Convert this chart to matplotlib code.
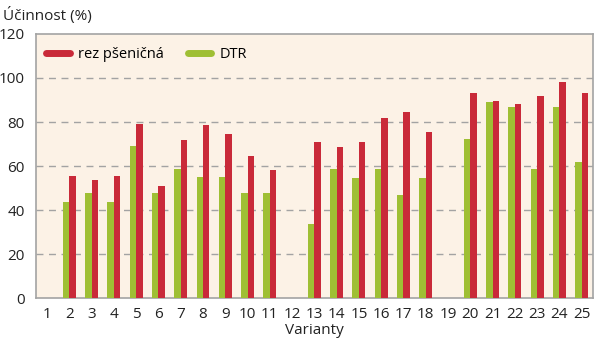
import matplotlib
matplotlib.use("Agg")
import matplotlib.pyplot as plt
from matplotlib.lines import Line2D
import numpy as np

varianty = list(range(1, 26))
# None = no bar for that variant
rez_psenicna = [None, 55.5, 53.5, 55.5, 79, 51, 72, 78.5, 74.5, 64.5, 58, None,
                71, 68.5, 71, 82, 84.5, 75.5, None, 93, 89.5, 88, 92, 98, 93]
dtr = [None, 43.5, 48, 43.5, 69, 48, 58.5, 55, 55, 48, 48, None,
       33.5, 58.5, 54.5, 58.5, 47, 54.5, None, 72.5, 89, 87, 58.5, 87, 62]

red = '#c92a39'
green = '#9fbf34'
grey = '#a3a3a3'

x = np.array(varianty, dtype=float)
r = np.array([np.nan if v is None else v for v in rez_psenicna])
g = np.array([np.nan if v is None else v for v in dtr])

plt.rcParams['font.family'] = ['Open Sans', 'DejaVu Sans']

fig = plt.figure(figsize=(6.0, 3.46), dpi=100)
ax = fig.add_axes([0.06, 0.138, 0.928, 0.764])
ax.set_facecolor('#fcf2e6')

w = 0.29
ax.bar(x + w / 2, r, width=w, color=red, zorder=3)
ax.bar(x - w / 2, g, width=w, color=green, zorder=3)

ax.set_xlim(0.5, 25.5)
ax.set_ylim(0, 120)
ax.set_yticks(range(0, 121, 20))
ax.set_xticks(varianty)
for yv in range(20, 101, 20):
    ax.axhline(yv, color=grey, lw=1, ls=(0, (5, 4)), zorder=1)

for s in ax.spines.values():
    s.set_color(grey)
    s.set_linewidth(1.2)
ax.tick_params(length=0, labelsize=11, colors='#222222', pad=6)
ax.tick_params(axis='y', pad=8)

ax.set_xlabel('Varianty', fontsize=11, color='#222222', labelpad=1)
fig.text(0.005, 0.955, 'Účinnost (%)', fontsize=11, color='#222222', va='center')

handles = [Line2D([0], [0], color=red, lw=5, solid_capstyle='round'),
           Line2D([0], [0], color=green, lw=5, solid_capstyle='round')]
ax.legend(handles, ['rez pšeničná', 'DTR'], loc='upper left', ncol=2, frameon=False,
          fontsize=10.5, handlelength=1.6, columnspacing=1.6, handletextpad=0.6,
          bbox_to_anchor=(-0.005, 1.0))

fig.savefig('out.png', dpi=100)
